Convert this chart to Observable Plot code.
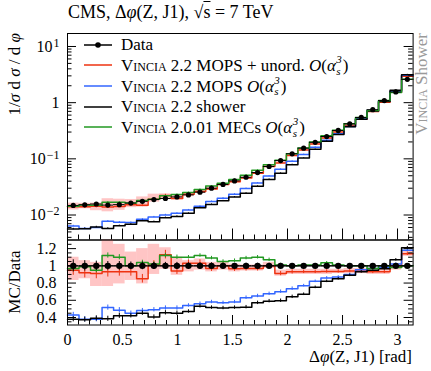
<!DOCTYPE html>
<html><head><meta charset="utf-8">
<script src="https://cdn.jsdelivr.net/npm/d3@7"></script>
<script src="https://cdn.jsdelivr.net/npm/@observablehq/plot@0.6"></script>
<style>
html,body{margin:0;padding:0;background:#fff;}
#wrap{position:relative;width:431px;height:371px;overflow:hidden;font-family:"Liberation Serif",serif;color:#000;}
#wrap > svg{position:absolute;left:0;}
.sc{font-variant:small-caps;}
.ss{position:relative;display:inline-block;width:7px;height:17px;vertical-align:baseline;font-style:italic;}
.ss .u,.ss .d{position:absolute;left:0.5px;font-size:11px;line-height:11px;}
.ss .u{top:0px;}
.ss .d{top:11.5px;}
#title{position:absolute;left:68px;top:2px;font-size:18px;white-space:nowrap;}
#legend{position:absolute;left:83px;top:34.5px;font-size:17px;}
.row{display:flex;align-items:center;height:20.6px;white-space:nowrap;}
.row svg{margin-right:9px;flex:none;}
</style></head><body><div id="wrap">
<div id="title">CMS, Δ<i>φ</i>(Z, J1), √<span style="text-decoration:overline">s</span> = 7 TeV</div>
</div>
<script>
// ---- data ----
const edges = [0,0.1047,0.2094,0.3142,0.4189,0.5236,0.6283,0.7330,0.8378,0.9425,1.0472,1.1519,1.2566,1.3614,1.4661,1.5708,1.6755,1.7802,1.8850,1.9897,2.0944,2.1991,2.3038,2.4086,2.5133,2.6180,2.7227,2.8274,2.9322,3.0369,3.1416];
const dataVals = [0.0148,0.0152,0.0157,0.0150,0.0153,0.0163,0.0175,0.0188,0.0197,0.0210,0.0228,0.0255,0.0300,0.0350,0.0405,0.0470,0.0570,0.0730,0.0930,0.123,0.155,0.197,0.250,0.320,0.420,0.545,0.750,1.09,1.55,2.60];
const dataErr = [0.07,0.06,0.055,0.05,0.05,0.045,0.045,0.04,0.04,0.04,0.035,0.035,0.035,0.03,0.03,0.03,0.03,0.03,0.025,0.025,0.025,0.025,0.025,0.025,0.025,0.025,0.025,0.025,0.025,0.025];
const ratioRed   = [0.95,0.92,0.91,0.93,0.93,0.93,0.85,1.01,1.13,0.94,1.03,1.03,0.97,1.00,0.965,0.97,0.97,1.00,0.91,0.93,0.93,0.93,0.935,0.935,0.94,0.94,0.93,0.93,0.985,1.14];
const ratioBlue  = [0.43,0.38,0.38,0.515,0.485,0.45,0.48,0.49,0.51,0.51,0.54,0.56,0.58,0.57,0.58,0.63,0.65,0.675,0.70,0.735,0.77,0.82,0.86,0.87,0.90,0.955,0.97,0.985,1.02,1.18];
const ratioBlack = [0.38,0.375,0.39,0.385,0.42,0.42,0.45,0.405,0.455,0.45,0.47,0.53,0.515,0.51,0.515,0.52,0.57,0.59,0.595,0.64,0.67,0.75,0.82,0.85,0.89,0.93,0.95,0.965,1.07,1.21];
const ratioGreen = [0.97,0.99,0.95,1.12,1.10,1.00,1.04,1.02,1.12,1.10,1.10,1.12,1.09,1.05,1.06,1.09,1.10,1.07,1.01,1.00,1.01,1.01,1.035,1.01,1.00,1.00,0.97,1.00,0.98,1.00];
const errRed   = [0.06,0.06,0.06,0.06,0.05,0.05,0.05,0.05,0.05,0.04,0.04,0.04,0.035,0.035,0.03,0.03,0.03,0.025,0.025,0.025,0.02,0.02,0.02,0.02,0.02,0.02,0.02,0.02,0.02,0.02];
const errBlue  = [0.03,0.03,0.03,0.03,0.03,0.025,0.025,0.025,0.025,0.025,0.02,0.02,0.02,0.02,0.02,0.02,0.02,0.02,0.02,0.02,0.015,0.015,0.015,0.015,0.015,0.015,0.015,0.015,0.015,0.015];
const errBlack = [0.03,0.03,0.03,0.03,0.03,0.025,0.025,0.025,0.025,0.025,0.02,0.02,0.02,0.02,0.02,0.02,0.02,0.02,0.02,0.02,0.015,0.015,0.015,0.015,0.015,0.015,0.015,0.015,0.015,0.015];
const errGreen = [0.03,0.03,0.03,0.03,0.03,0.025,0.025,0.025,0.025,0.025,0.02,0.02,0.02,0.02,0.02,0.02,0.02,0.02,0.02,0.02,0.015,0.015,0.015,0.015,0.015,0.015,0.015,0.015,0.015,0.015];
const bandHi = [1.10,1.06,1.04,1.30,1.25,1.16,1.20,1.25,1.21,1.10,1.06,1.08,1.04,1.04,1.02,1.01,1.01,1.04,0.95,0.96,0.96,0.96,0.96,0.96,0.97,0.97,0.96,0.96,1.02,1.17];
const bandLo = [0.83,0.85,0.76,0.76,0.79,0.83,0.79,0.90,0.96,0.89,0.93,0.95,0.93,0.95,0.93,0.94,0.94,0.97,0.88,0.90,0.90,0.90,0.90,0.91,0.91,0.91,0.90,0.90,0.95,1.11];
const seriesKeys = ["red","blue","black","green"];
const seriesColors = ["#ee3311","#3366ff","#000000","#229922"];
const xTickVals = [0,0.5,1,1.5,2,2.5,3];
const yMainTickVals = [0.01,0.1,1,10];
const yMainTickBase = ["10","10","1","10"];
const yMainTickExp = ["−2","−1","","1"];
const yRatioTickVals = [0.4,0.6,0.8,1,1.2];

// ---- build tables ----
const ratios = {red:ratioRed, blue:ratioBlue, black:ratioBlack, green:ratioGreen};
const errs = {red:errRed, blue:errBlue, black:errBlack, green:errGreen};
const bins = dataVals.map((v,i)=>({lo:edges[i],hi:edges[i+1],mid:(edges[i]+edges[i+1])/2,v,err:dataErr[i],bLo:bandLo[i],bHi:bandHi[i]}));
const mcRows = [], stepRows = [];
seriesKeys.forEach((s)=>{
  ratios[s].forEach((r,i)=>{
    const b = bins[i];
    mcRows.push({s, mid:b.mid, r, v:b.v*r, e:errs[s][i]});
    stepRows.push({s, x:b.lo, r, v:b.v*r});
  });
  const r = ratios[s][29];
  stepRows.push({s, x:edges[30], r, v:bins[29].v*r});
});
const colorOf = s => seriesColors[seriesKeys.indexOf(s)];

const FONT = '"Liberation Serif", serif';
const W = 431, mL = 67, mR = 18.4;
const areaW = W - mL - mR;
const xDom = [edges[0], edges[30]];
const xMinor = d3.range(0, 3.15, 0.1).filter(v => xTickVals.every(t => Math.abs(t - v) > 1e-6));

// ---- main panel ----
const mainH = 240, mT = 33, mB = 0.5, mainArea = mainH - mT - mB;
const yMin = 0.00359, yMax = 17.03;
const logMinor = [];
[-3,-2,-1,0,1].forEach(e => { for (let k = 2; k <= 9; k++) { const v = k * Math.pow(10, e); if (v > yMin && v < yMax) logMinor.push(v); } });

const marks = [];
marks.push(Plot.rect(bins, {x1:"lo", x2:"hi", y1:d=>d.v*d.bLo, y2:d=>d.v*d.bHi, fill:"#ff7f7f", fillOpacity:0.45}));
seriesKeys.forEach(s => {
  marks.push(Plot.line(stepRows.filter(d=>d.s===s), {x:"x", y:"v", curve:"step-after", stroke:colorOf(s), strokeWidth:1.5}));
  marks.push(Plot.ruleX(mcRows.filter(d=>d.s===s), {x:"mid", y1:d=>d.v*(1-d.e), y2:d=>d.v*(1+d.e), stroke:colorOf(s), strokeWidth:1}));
});
marks.push(Plot.ruleY(bins, {x1:"lo", x2:"hi", y:"v", stroke:"#000", strokeWidth:1}));
marks.push(Plot.ruleX(bins, {x:"mid", y1:d=>d.v*(1-d.err), y2:d=>d.v*(1+d.err), stroke:"#000", strokeWidth:1}));
marks.push(Plot.dot(bins, {x:"mid", y:"v", r:2.6, fill:"#000", stroke:null}));
// ticks
marks.push(Plot.tickX(xTickVals, {x:d=>d, insetTop:mainArea-11, stroke:"#000"}));
marks.push(Plot.tickX(xMinor, {x:d=>d, insetTop:mainArea-5, stroke:"#000"}));
marks.push(Plot.tickY(yMainTickVals, {y:d=>d, insetRight:areaW-9, stroke:"#000"}));
marks.push(Plot.tickY(logMinor, {y:d=>d, insetRight:areaW-4.5, stroke:"#000"}));
marks.push(Plot.tickY(yMainTickVals, {y:d=>d, insetLeft:areaW-9, stroke:"#000"}));
marks.push(Plot.tickY(logMinor, {y:d=>d, insetLeft:areaW-4.5, stroke:"#000"}));
marks.push(Plot.frame({stroke:"#000", strokeWidth:1}));
marks.push(Plot.axisY(yMainTickVals, {tickSize:0, tickPadding:8, label:null, tickFormat:d=>{const i=yMainTickVals.indexOf(d); return yMainTickBase[i] + (yMainTickExp[i] ? "^" + yMainTickExp[i] : "");}, fontSize:16}));

const mainPlot = Plot.plot({
  width:W, height:mainH, marginLeft:mL, marginRight:mR, marginTop:mT, marginBottom:mB,
  style:{fontFamily:FONT, fontSize:"16px", background:"transparent", overflow:"visible"},
  x:{domain:xDom, axis:null},
  y:{type:"log", domain:[yMin,yMax], clamp:true, label:null},
  marks
});
mainPlot.style.top = "0px";
// render exponents as raised text
const NS = "http://www.w3.org/2000/svg";
mainPlot.querySelectorAll("text").forEach(t => {
  const s = t.textContent;
  const k = s.indexOf("^");
  if (k > 0) {
    t.textContent = s.slice(0, k);
    const ts = document.createElementNS(NS, "tspan");
    ts.setAttribute("dy", "-0.42em");
    ts.setAttribute("dx", "1");
    ts.setAttribute("font-size", "12");
    ts.textContent = s.slice(k + 1);
    t.appendChild(ts);
  }
});

// ---- ratio panel ----
const rTop = 239, rH = 132, rMT = 0.5, rMB = 46.5, rArea = rH - rMT - rMB;
const rMinor = d3.range(0.35, 1.3, 0.05).filter(v => yRatioTickVals.every(t => Math.abs(t - v) > 1e-6));
const rm = [];
rm.push(Plot.rect(bins, {x1:"lo", x2:"hi", y1:"bLo", y2:"bHi", fill:"#ff7f7f", fillOpacity:0.45}));
seriesKeys.forEach(s => {
  rm.push(Plot.line(stepRows.filter(d=>d.s===s), {x:"x", y:"r", curve:"step-after", stroke:colorOf(s), strokeWidth:1.5}));
  rm.push(Plot.ruleX(mcRows.filter(d=>d.s===s), {x:"mid", y1:d=>d.r-d.e, y2:d=>d.r+d.e, stroke:colorOf(s), strokeWidth:1}));
});
rm.push(Plot.ruleY(bins, {x1:"lo", x2:"hi", y:()=>1, stroke:"#000", strokeWidth:1.5}));
rm.push(Plot.ruleX(bins, {x:"mid", y1:d=>1-d.err, y2:d=>1+d.err, stroke:"#000", strokeWidth:1}));
rm.push(Plot.dot(bins, {x:"mid", y:()=>1, r:3.2, fill:"#000", stroke:null}));
rm.push(Plot.tickX(xTickVals, {x:d=>d, insetTop:rArea-9.5, stroke:"#000"}));
rm.push(Plot.tickX(xMinor, {x:d=>d, insetTop:rArea-4.5, stroke:"#000"}));
rm.push(Plot.tickY(yRatioTickVals, {y:d=>d, insetRight:areaW-9, stroke:"#000"}));
rm.push(Plot.tickY(rMinor, {y:d=>d, insetRight:areaW-4.5, stroke:"#000"}));
rm.push(Plot.tickY(yRatioTickVals, {y:d=>d, insetLeft:areaW-9, stroke:"#000"}));
rm.push(Plot.tickY(rMinor, {y:d=>d, insetLeft:areaW-4.5, stroke:"#000"}));
rm.push(Plot.frame({stroke:"#000", strokeWidth:1}));
rm.push(Plot.axisY(yRatioTickVals, {tickSize:0, tickPadding:11, label:null, tickFormat:d=>String(d), fontSize:16}));
rm.push(Plot.axisX(xTickVals, {tickSize:0, tickPadding:9, label:null, tickFormat:d=>String(d), fontSize:16}));

const ratioPlot = Plot.plot({
  width:W, height:rH, marginLeft:mL, marginRight:mR, marginTop:rMT, marginBottom:rMB,
  style:{fontFamily:FONT, fontSize:"16px", background:"transparent", overflow:"visible"},
  x:{domain:xDom, label:null},
  y:{domain:[0.313,1.3], clamp:true, label:null},
  marks: rm
});
ratioPlot.style.top = rTop + "px";

const wrap = document.getElementById("wrap");
wrap.appendChild(mainPlot);
wrap.appendChild(ratioPlot);

// ---- labels overlay ----
const ov = document.createElementNS(NS, "svg");
ov.setAttribute("width", W); ov.setAttribute("height", 371);
ov.style.top = "0px"; ov.style.pointerEvents = "none";
ov.innerHTML = `
<g font-family='${FONT}' font-size="17">
<text transform="translate(20,33) rotate(-90)" text-anchor="end">1/<tspan font-style="italic">σ</tspan> d <tspan font-style="italic">σ</tspan> / d <tspan font-style="italic">φ</tspan></text>
<text transform="translate(20,282) rotate(-90)" text-anchor="middle">MC/Data</text>
<text x="412" y="362" text-anchor="end">Δ<tspan font-style="italic">φ</tspan>(Z, J1) [rad]</text>
<text transform="translate(427,33) rotate(-90)" text-anchor="end" fill="#9a9a9a"><tspan style="font-variant:small-caps">Vincia</tspan> Shower</text>
</g>`;
wrap.appendChild(ov);

// ---- legend ----
const OA = '<i>O</i>(<i>α</i><span class="ss"><span class="u">3</span><span class="d">s</span></span>)';
const legendItems = [
  {key:"data", color:"#000", html:"Data"},
  {key:"red", color:seriesColors[0], html:'<span class="sc">Vincia</span> 2.2 MOPS + unord. ' + OA},
  {key:"blue", color:seriesColors[1], html:'<span class="sc">Vincia</span> 2.2 MOPS ' + OA},
  {key:"black", color:seriesColors[2], html:'<span class="sc">Vincia</span> 2.2 shower'},
  {key:"green", color:seriesColors[3], html:'<span class="sc">Vincia</span> 2.0.01 MECs ' + OA}
];
const leg = document.createElement("div"); leg.id = "legend";
legendItems.forEach(it => {
  const row = document.createElement("div"); row.className = "row";
  const dot = it.key === "data" ? '<circle cx="15" cy="5" r="2.8" fill="#000"/>' : '';
  row.innerHTML = `<svg width="29" height="10"><line x1="1" x2="29" y1="5" y2="5" stroke="${it.color}" stroke-width="1.5"/>${dot}</svg><span>${it.html}</span>`;
  leg.appendChild(row);
});
wrap.appendChild(leg);
</script>
</body></html>
